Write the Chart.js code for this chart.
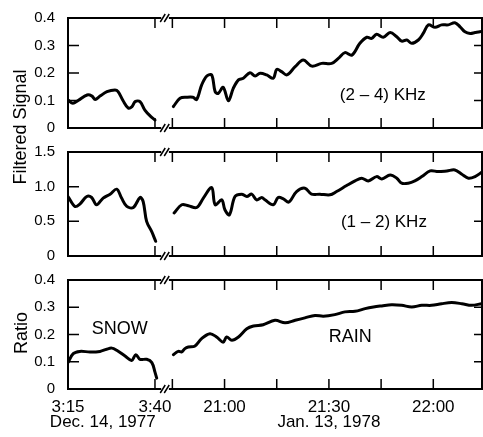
<!DOCTYPE html>
<html>
<head>
<meta charset="utf-8">
<script src="https://cdn.jsdelivr.net/npm/chart.js@4.4.0/dist/chart.umd.min.js"></script>
<style>
  body { margin: 0; background: #fff; }
  #wrap { position: relative; width: 483px; height: 437px; overflow: hidden; font-family: "Liberation Sans", Arial, sans-serif; }
  .panel { position: absolute; left: 0; }
  .ytitle { position: absolute; font-size: 18px; white-space: nowrap; color: #000;
            transform: translate(-50%, -50%) rotate(-90deg); }
</style>
</head>
<body>
<div id="wrap">
  <div class="panel" style="top:0"><canvas id="chartHi" width="483" height="140"></canvas></div>
  <div class="panel" style="top:140px"><canvas id="chartLo" width="483" height="128"></canvas></div>
  <div class="panel" style="top:268px"><canvas id="chartRatio" width="483" height="169"></canvas></div>
  <div class="ytitle" style="left:20px; top:127px">Filtered Signal</div>
  <div class="ytitle" style="left:21px; top:333px">Ratio</div>
</div>
<script>
// x values are minutes past the hour: snow run 3:15-3:40 (past 3:00),
// rain run 20:45-22:14 counted past 20:00 (so 21:00 = 60)
var xMin = 15;
var xMax = 134;
var xLabelMin = [15, 40, 60, 90, 120];
var xLabelText = ["3:15", "3:40", "21:00", "21:30", "22:00"];
var xTickMin = [40, 45, 60, 75, 90, 105, 120];

// (2 - 4) KHz filtered signal
var hiSnowMin = [15, 16.4, 17.9, 20.5, 21.9, 22.8, 24.2, 26.2, 28.5, 29.4, 30.8, 32.3, 33.4, 34.3, 35.7, 37.1, 38.6, 40.0];
var hiSnow = [0.102, 0.090, 0.100, 0.120, 0.116, 0.104, 0.116, 0.132, 0.138, 0.132, 0.100, 0.073, 0.078, 0.096, 0.096, 0.065, 0.044, 0.029];
var hiRainMin = [45.3, 47.2, 49.1, 50.9, 52.0, 53.4, 54.9, 56.3, 57.3, 58.2, 59.6, 61.1, 62.5, 64.0, 65.4, 67.3, 68.8, 70.2, 72.1, 74.0,
  75.0, 76.4, 77.9, 80.3, 82.6, 85.1, 87.9, 90.8, 92.7, 94.6, 96.6, 98.9, 100.9, 102.3, 103.7, 105.6, 107.6, 109.5, 110.9, 112.4,
  113.8, 115.7, 117.1, 118.6, 120.5, 122.4, 124.3, 126.2, 127.7, 129.1, 130.6, 132.0, 133.4, 134.0];
var hiRain = [0.078, 0.108, 0.112, 0.112, 0.104, 0.156, 0.189, 0.193, 0.132, 0.126, 0.148, 0.099, 0.144, 0.175, 0.181, 0.201, 0.189, 0.199, 0.193, 0.181,
  0.213, 0.205, 0.193, 0.223, 0.247, 0.225, 0.235, 0.235, 0.253, 0.274, 0.265, 0.308, 0.330, 0.326, 0.341, 0.330, 0.347, 0.332, 0.316, 0.320,
  0.308, 0.320, 0.344, 0.375, 0.366, 0.375, 0.375, 0.383, 0.368, 0.350, 0.344, 0.347, 0.350, 0.352];

// (1 - 2) KHz filtered signal
var loSnowMin = [15, 17.0, 18.4, 20.4, 21.8, 23.2, 25.1, 27.1, 29.0, 30.4, 31.9, 33.8, 35.7, 36.6, 37.6, 39.1, 40.2];
var loSnow = [0.858, 0.715, 0.749, 0.858, 0.844, 0.739, 0.835, 0.892, 0.964, 0.835, 0.715, 0.700, 0.844, 0.786, 0.499, 0.347, 0.212];
var loRainMin = [45.5, 47.7, 49.6, 52.0, 53.9, 56.3, 57.3, 59.2, 60.1, 61.4, 63.0, 64.9, 66.4, 67.8, 69.2, 70.7, 71.6, 74.0, 75.4, 76.9,
  78.5, 80.7, 83.1, 85.0, 87.4, 90.3, 92.2, 95.1, 97.5, 99.4, 101.3, 103.7, 105.2, 107.6, 109.5, 110.9, 112.8, 114.7, 116.7, 119.1,
  121.4, 123.9, 126.2, 128.2, 130.1, 132.0, 133.9];
var loRain = [0.620, 0.739, 0.725, 0.700, 0.835, 0.987, 0.739, 0.810, 0.667, 0.595, 0.858, 0.892, 0.858, 0.892, 0.810, 0.844, 0.810, 0.739, 0.844, 0.825,
  0.778, 0.930, 0.978, 0.892, 0.892, 0.882, 0.930, 1.016, 1.083, 1.122, 1.083, 1.145, 1.112, 1.169, 1.122, 1.050, 1.050, 1.083, 1.145, 1.227,
  1.217, 1.227, 1.241, 1.179, 1.122, 1.145, 1.208];

// ratio
var ratioSnowMin = [15.0, 16.5, 18.4, 21.3, 24.2, 26.1, 27.6, 29.0, 31.4, 33.3, 34.5, 35.7, 37.6, 39.1, 40.0, 40.5];
var ratioSnow = [0.097, 0.130, 0.138, 0.136, 0.138, 0.146, 0.150, 0.142, 0.121, 0.105, 0.126, 0.109, 0.109, 0.097, 0.062, 0.040];
var ratioRainMin = [45.3, 46.7, 47.7, 48.6, 49.6, 51.5, 53.4, 55.8, 57.7, 59.6, 60.6, 62.1, 64.0, 66.4, 68.3, 71.1, 74.5, 77.4, 80.3, 83.1,
  86.0, 88.4, 91.7, 94.6, 97.5, 100.4, 102.8, 105.2, 108.0, 110.9, 113.8, 116.7, 119.5, 122.4, 125.3, 128.2, 131.0, 133.9];
var ratioRain = [0.126, 0.138, 0.136, 0.148, 0.154, 0.158, 0.185, 0.203, 0.191, 0.172, 0.191, 0.179, 0.191, 0.221, 0.231, 0.236, 0.252, 0.243, 0.252, 0.261,
  0.270, 0.267, 0.273, 0.283, 0.285, 0.295, 0.301, 0.305, 0.309, 0.307, 0.301, 0.307, 0.307, 0.313, 0.317, 0.313, 0.307, 0.313];

Chart.defaults.font.family = '"Liberation Sans", Arial, sans-serif';
Chart.defaults.color = '#000';
Chart.defaults.animation = false;

function toPoints(mins, vals) {
  var pts = [];
  for (var i = 0; i < mins.length; i++) {
    pts.push({x: mins[i], y: vals[i]});
  }
  return pts;
}

function lineSet(mins, vals) {
  return {
    data: toPoints(mins, vals),
    borderColor: '#000',
    borderWidth: 3,
    pointRadius: 0,
    tension: 0.35,
    borderCapStyle: 'round',
    borderJoinStyle: 'round',
    fill: false
  };
}

// box, inward ticks, axis break and the text notes
var framePlugin = {
  id: 'frame',
  afterDatasetsDraw: function (chart, args, opts) {
    var ctx = chart.ctx;
    var a = chart.chartArea;
    var xs = chart.scales.x;
    var ys = chart.scales.y;

    ctx.save();
    ctx.strokeStyle = '#000';
    ctx.lineWidth = 2;
    ctx.strokeRect(a.left, a.top, a.right - a.left, a.bottom - a.top);

    ctx.lineWidth = 1.5;
    ctx.beginPath();
    for (var i = 0; i < xTickMin.length; i++) {
      var px = xs.getPixelForValue(xTickMin[i]);
      ctx.moveTo(px, a.top);
      ctx.lineTo(px, a.top + 10);
      ctx.moveTo(px, a.bottom);
      ctx.lineTo(px, a.bottom - 10);
    }
    for (var j = 1; j < ys.ticks.length - 1; j++) {
      var py = ys.getPixelForValue(ys.ticks[j].value);
      ctx.moveTo(a.left, py);
      ctx.lineTo(a.left + 11, py);
      ctx.moveTo(a.right, py);
      ctx.lineTo(a.right - 8, py);
    }
    ctx.stroke();

    // time axis break "//"
    var b0 = xs.getPixelForValue(41.8);
    var b1 = xs.getPixelForValue(44);
    ctx.fillStyle = '#fff';
    ctx.fillRect(b0, a.top - 3, b1 - b0, 6);
    ctx.fillRect(b0, a.bottom - 3, b1 - b0, 6);
    ctx.lineWidth = 1.5;
    ctx.beginPath();
    [a.top, a.bottom].forEach(function (yy) {
      ctx.moveTo(b0 - 1, yy + 4);
      ctx.lineTo(b0 + 4, yy - 4);
      ctx.moveTo(b0 + 3, yy + 4);
      ctx.lineTo(b0 + 8, yy - 4);
    });
    ctx.stroke();

    ctx.fillStyle = '#000';
    ctx.textAlign = 'center';
    ctx.textBaseline = 'middle';
    (opts.notes || []).forEach(function (n) {
      ctx.font = n.size + 'px "Liberation Sans", Arial, sans-serif';
      var tx = xs.getPixelForValue(n.x);
      var ty = n.below !== undefined ? a.bottom + n.below : ys.getPixelForValue(n.y);
      ctx.fillText(n.text, tx, ty);
    });
    ctx.restore();
  }
};

function makePanel(id, yMax, yStep, sets, notes, pad, showX) {
  var ctx = document.getElementById(id).getContext('2d');
  return new Chart(ctx, {
    type: 'line',
    data: { datasets: sets },
    options: {
      responsive: false,
      animation: false,
      layout: { padding: pad },
      plugins: {
        legend: { display: false },
        tooltip: { enabled: false },
        frame: { notes: notes }
      },
      scales: {
        x: {
          type: 'linear',
          min: xMin,
          max: xMax,
          display: showX,
          grid: { display: false, drawTicks: false },
          border: { display: false },
          afterBuildTicks: function (s) {
            s.ticks = xLabelMin.map(function (v) { return {value: v}; });
          },
          afterFit: function (s) { s.height = showX ? 48 : 0; },
          ticks: {
            autoSkip: false,
            maxRotation: 0,
            padding: 8,
            font: { size: 17 },
            callback: function (v) { return xLabelText[xLabelMin.indexOf(v)]; }
          }
        },
        y: {
          min: 0,
          max: yMax,
          // invisible tick length gives the label gap without extra top/bottom padding
          grid: { display: false, drawTicks: true, tickLength: 13, tickColor: 'rgba(0,0,0,0)' },
          border: { display: false },
          afterFit: function (s) { s.width = 68; },
          ticks: {
            stepSize: yStep,
            autoSkip: false,
            padding: 0,
            font: { size: 15 },
            callback: function (v) { return v === 0 ? '0' : v.toFixed(1); }
          }
        }
      }
    },
    plugins: [framePlugin]
  });
}

makePanel('chartHi', 0.4, 0.1,
  [lineSet(hiSnowMin, hiSnow), lineSet(hiRainMin, hiRain)],
  [{text: '(2 \u2013 4) KHz', x: 105.5, y: 0.12, size: 17}],
  {top: 18, bottom: 12, left: 0, right: 1}, false);

makePanel('chartLo', 1.5, 0.5,
  [lineSet(loSnowMin, loSnow), lineSet(loRainMin, loRain)],
  [{text: '(1 \u2013 2) KHz', x: 105.8, y: 0.48, size: 17}],
  {top: 12, bottom: 12, left: 0, right: 1}, false);

makePanel('chartRatio', 0.4, 0.1,
  [lineSet(ratioSnowMin, ratioSnow), lineSet(ratioRainMin, ratioRain)],
  [{text: 'SNOW', x: 29.9, y: 0.22, size: 18},
   {text: 'RAIN', x: 96.1, y: 0.19, size: 18},
   {text: 'Dec. 14, 1977', x: 25, below: 33, size: 17},
   {text: 'Jan. 13, 1978', x: 90, below: 33, size: 17}],
  {top: 12, bottom: 0, left: 0, right: 1}, true);
</script>
</body>
</html>
